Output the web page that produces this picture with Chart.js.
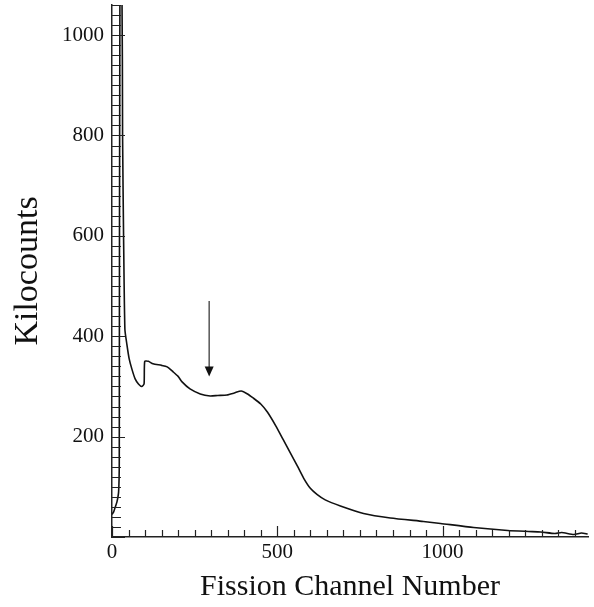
<!DOCTYPE html>
<html>
<head>
<meta charset="utf-8">
<script src="https://cdn.jsdelivr.net/npm/chart.js@4/dist/chart.umd.min.js"></script>
<style>
  html, body { margin: 0; padding: 0; background: #fff; }
  #wrap { width: 594px; height: 607px; }
</style>
</head>
<body>
<div id="wrap"><canvas id="fission"></canvas></div>
<script>
// -------------------- DATA --------------------

// Channel numbers and counts (kilocounts)
const channels = [0, 5, 10, 15, 20, 22, 24, 30, 32, 35, 39, 45, 52, 60, 70, 80, 90, 97, 99,
  110, 124, 150, 167, 185, 200, 212, 236, 267, 297, 320, 348, 370, 391, 410, 427, 450,
  470, 495, 518, 539, 561, 580, 600, 620, 645, 691, 761, 842, 942, 994, 1094, 1197, 1260,
  1297, 1340, 1360, 1397, 1420, 1439];
const kilocounts = [45, 50, 60, 70, 90, 150, 1100, 1100, 800, 600, 414, 384, 355, 335, 315,
  305, 300, 305, 350, 350, 345, 342, 339, 329, 320, 309, 295, 285, 281, 282, 283, 287,
  291, 285, 277, 265, 249, 222, 194, 168, 141, 117, 97, 85, 74, 62, 47, 38, 31, 27, 19, 13,
  11, 10, 7, 9, 5, 8, 6];

// Axis ranges and tick labels
const xMax = 1440;
const yMax = 1060;
const xLabels = [0, 500, 1000];
const yLabels = [200, 400, 600, 800, 1000];

// Arrow marking the region of interest
const arrowChannel = 294;
const arrowTop = 470;
const arrowTip = 320;

// -------------------- TICKS + ARROW PLUGIN --------------------

// Draws inward tick marks (minor every 50 / 20, major on labels) and the arrow
const insideTicks = {
  id: "insideTicks",
  afterDatasetsDraw(chart) {
    const { ctx, scales: { x, y } } = chart;
    ctx.save();
    ctx.strokeStyle = "#222";
    ctx.lineWidth = 1.2;
    ctx.beginPath();
    for (let v = 0; v <= xMax; v += 50) {
      const px = Math.round(x.getPixelForValue(v)) + 0.5;
      const len = v % 500 === 0 ? 11 : 7;
      ctx.moveTo(px, y.bottom);
      ctx.lineTo(px, y.bottom - len);
    }
    for (let v = 0; v <= yMax; v += 20) {
      const py = Math.round(y.getPixelForValue(v)) + 0.5;
      const len = v % 200 === 0 ? 13 : 9;
      ctx.moveTo(x.left, py);
      ctx.lineTo(x.left + len, py);
    }
    ctx.stroke();

    // arrow
    const ax = x.getPixelForValue(arrowChannel);
    const ay1 = y.getPixelForValue(arrowTop);
    const ay2 = y.getPixelForValue(arrowTip);
    ctx.strokeStyle = "#555";
    ctx.fillStyle = "#111";
    ctx.lineWidth = 1.5;
    ctx.beginPath();
    ctx.moveTo(ax, ay1);
    ctx.lineTo(ax, ay2 - 8);
    ctx.stroke();
    ctx.beginPath();
    ctx.moveTo(ax - 4.5, ay2 - 10);
    ctx.lineTo(ax + 4.5, ay2 - 10);
    ctx.lineTo(ax, ay2);
    ctx.closePath();
    ctx.fill();
    ctx.restore();
  },
};

// -------------------- CHART --------------------

const serif = "'Liberation Serif', 'DejaVu Serif', serif";

new Chart(document.getElementById("fission"), {
  type: "line",
  data: {
    datasets: [
      {
        data: channels.map((c, i) => ({ x: c, y: kilocounts[i] })),
        borderColor: "#111",
        borderWidth: 1.6,
        pointRadius: 0,
        tension: 0.2,
        fill: false,
      },
    ],
  },
  options: {
    responsive: true,
    maintainAspectRatio: false,
    animation: false,
    layout: { padding: { top: 5, right: 6, left: 0, bottom: 0 } },
    plugins: { legend: { display: false }, tooltip: { enabled: false } },
    scales: {
      x: {
        type: "linear",
        min: 0,
        max: xMax,
        afterFit: (s) => {
          s.height = 70;
          s.paddingLeft = 0;
          s.paddingRight = 0;
        },
        afterBuildTicks: (s) => { s.ticks = xLabels.map((v) => ({ value: v })); },
        grid: { display: false, drawTicks: false },
        border: { display: true, color: "#222", width: 1.5 },
        ticks: {
          color: "#111",
          font: { family: serif, size: 21 },
          padding: 3,
          maxRotation: 0,
          callback: (v) => String(v),
        },
        title: {
          display: true,
          text: "Fission Channel Number",
          color: "#111",
          font: { family: serif, size: 30 },
          padding: { top: 0, bottom: 2 },
        },
      },
      y: {
        min: 0,
        max: yMax,
        afterFit: (s) => {
          s.width = 112;
          s.paddingTop = 0;
          s.paddingBottom = 0;
        },
        afterBuildTicks: (s) => { s.ticks = yLabels.map((v) => ({ value: v })); },
        grid: { display: false, drawTicks: false },
        border: { display: true, color: "#222", width: 1.5 },
        ticks: {
          color: "#111",
          font: { family: serif, size: 21 },
          padding: 8,
          callback: (v) => String(v),
        },
        title: {
          display: true,
          text: "Kilocounts",
          color: "#111",
          font: { family: serif, size: 34 },
          padding: { top: 8, bottom: 0 },
        },
      },
    },
  },
  plugins: [insideTicks],
});
</script>
</body>
</html>
